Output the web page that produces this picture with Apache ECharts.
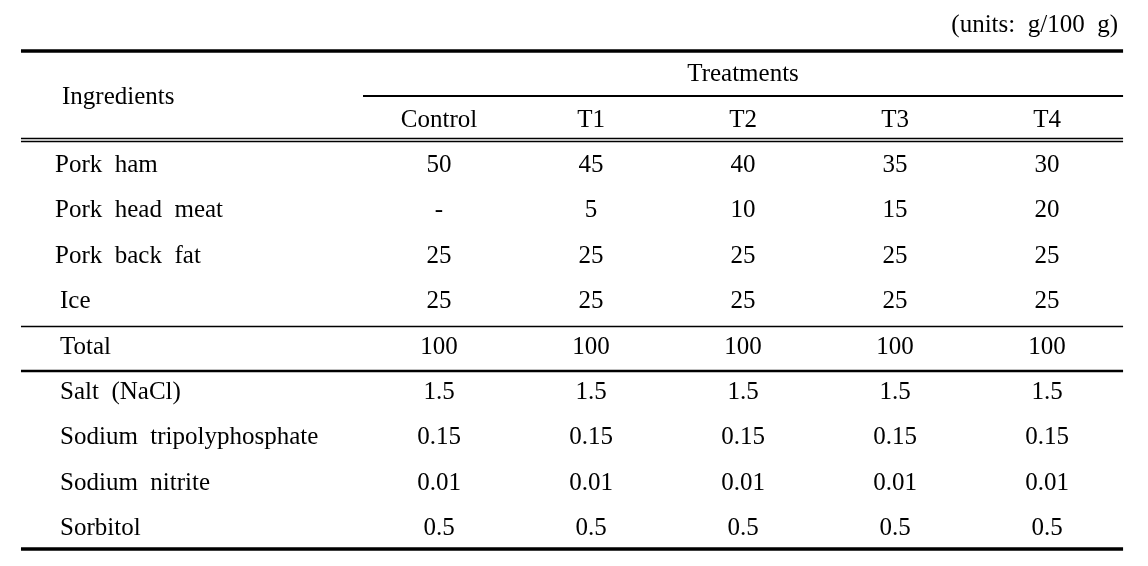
<!DOCTYPE html>
<html>
<head>
<meta charset="utf-8">
<script src="https://cdn.jsdelivr.net/npm/echarts@6/dist/echarts.min.js"></script>
<style>
  html, body { margin: 0; padding: 0; background: #fff; }
  #table { width: 1148px; height: 566px; }
</style>
</head>
<body>
<div id="table"></div>
<script>
// table content
const unitsNote = '(units:  g/100  g)'
const groupTitle = 'Treatments'
const rowTitle = 'Ingredients'
const columns = ['Control', 'T1', 'T2', 'T3', 'T4']
const ingredients = [
  'Pork  ham',
  'Pork  head  meat',
  'Pork  back  fat',
  'Ice',
  'Total',
  'Salt  (NaCl)',
  'Sodium  tripolyphosphate',
  'Sodium  nitrite',
  'Sorbitol',
]
const control = [50, null, 25, 25, 100, 1.5, 0.15, 0.01, 0.5]
const t1 = [45, 5, 25, 25, 100, 1.5, 0.15, 0.01, 0.5]
const t2 = [40, 10, 25, 25, 100, 1.5, 0.15, 0.01, 0.5]
const t3 = [35, 15, 25, 25, 100, 1.5, 0.15, 0.01, 0.5]
const t4 = [30, 20, 25, 25, 100, 1.5, 0.15, 0.01, 0.5]

const valueColumns = [control, t1, t2, t3, t4]

const font = {
  fontFamily: 'Liberation Serif',
  fontSize: 25,
  color: '#000',
  opacity: 1,
}

// x: column index (Control = 0), y: row index (column header row = 0)
const labelX = -2.493
const leftEdge = -2.75
const rightEdge = 4.5

function fmt(v) {
  return v === null ? '-' : String(v)
}

const headerData = columns.map((c, i) => [i, 0, c])
const rowData = ingredients.map((name, i) => ({
  value: [labelX, i + 1, name],
  label: { offset: [i < 3 ? -5 : 0, 1] },
}))
const cellData = []
valueColumns.forEach((col, ci) => {
  col.forEach((v, ri) => {
    cellData.push([ci, ri + 1, fmt(v)])
  })
})

function rule(y, width, x0 = leftEdge, x1 = rightEdge) {
  return [
    { coord: [x0, y], lineStyle: { width, color: '#000', type: 'solid', opacity: 1 } },
    { coord: [x1, y] },
  ]
}

const centerLabel = {
  show: true,
  position: 'inside',
  align: 'center',
  verticalAlign: 'middle',
  offset: [0, 1],
  formatter: p => p.value[2],
  ...font,
}
const leftLabel = {
  show: true,
  position: 'right',
  distance: 0,
  align: 'left',
  verticalAlign: 'middle',
  formatter: p => p.value[2],
  ...font,
}

const textSeries = {
  type: 'scatter',
  symbolSize: 0,
  silent: true,
  itemStyle: { opacity: 1 },
}

const chart = echarts.init(document.getElementById('table'))
chart.setOption({
  animation: false,
  title: {
    text: unitsNote,
    right: 25,
    top: 8,
    textStyle: { ...font, fontWeight: 'normal' },
  },
  grid: { left: 0, right: 0, top: 0, bottom: 0 },
  xAxis: { type: 'value', min: -2.888, max: 4.664, show: false },
  yAxis: { type: 'value', inverse: true, min: -2.62, max: 9.844, show: false },
  series: [
    {
      ...textSeries,
      name: 'titles',
      data: [
        { value: [2, -1, groupTitle], label: centerLabel },
        { value: [labelX, -0.5, rowTitle], label: { ...leftLabel, offset: [2, 1] } },
      ],
      label: centerLabel,
    },
    {
      ...textSeries,
      name: 'columns',
      data: headerData,
      label: centerLabel,
    },
    {
      ...textSeries,
      name: 'ingredients',
      data: rowData,
      label: leftLabel,
    },
    {
      ...textSeries,
      name: 'cells',
      data: cellData,
      label: centerLabel,
      markLine: {
        silent: true,
        symbol: 'none',
        label: { show: false },
        data: [
          rule(-1.497, 3.5),
          rule(-0.506, 2, -0.5),
          rule(0.418, 1.3),
          rule(0.491, 1.3),
          rule(4.558, 1.3),
          rule(5.543, 2.3),
          rule(9.46, 3.5),
        ],
      },
    },
  ],
})
</script>
</body>
</html>
